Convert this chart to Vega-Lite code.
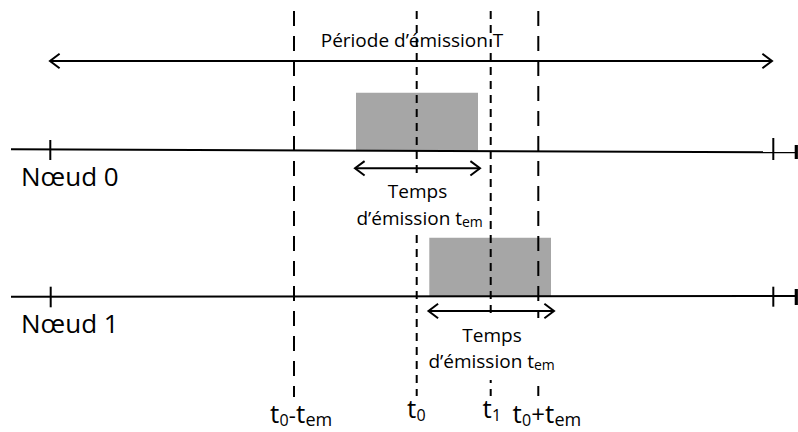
{
  "$schema": "https://vega.github.io/schema/vega-lite/v6.json",
  "width": 798,
  "height": 432,
  "padding": 0,
  "autosize": {"type": "fit", "contains": "padding"},
  "background": "white",
  "config": {"view": {"stroke": null}, "text": {"font": "Open Sans", "color": "#000000", "baseline": "alphabetic"}},
  "datasets": {
    "boxes": [
      {"name": "Nœud 0 émission", "x": 356, "x2": 478, "y": 92.7, "y2": 150.5},
      {"name": "Nœud 1 émission", "x": 429.3, "x2": 551, "y": 237.7, "y2": 296.5}
    ],
    "masks": [
      {"x": 352, "x2": 487, "y": 176, "y2": 235},
      {"x": 424, "x2": 560, "y": 318, "y2": 380}
    ],
    "segs": [
      {"seg": "Nœud 0", "x": 11, "x2": 797, "y": 149.3, "y2": 152.3},
      {"seg": "Nœud 1", "x": 11, "x2": 797, "y": 296.7, "y2": 296},
      {"seg": "T", "x": 50, "x2": 772, "y": 61, "y2": 61},
      {"seg": "tem 0", "x": 355, "x2": 480, "y": 168.3, "y2": 168.3},
      {"seg": "tem 1", "x": 428.5, "x2": 554, "y": 311, "y2": 311}
    ],
    "vlines": [
      {"label": "t0-tem", "kind": "long", "x": 294, "y": 11, "y2": 397},
      {"label": "t0", "kind": "short", "x": 416.7, "y": 11, "y2": 396},
      {"label": "t1", "kind": "short", "x": 490.7, "y": 11, "y2": 396},
      {"label": "t0+tem", "kind": "long", "x": 538.3, "y": 11, "y2": 396}
    ],
    "ticks": [
      {"kind": "tick", "x": 50.3, "y": 140, "y2": 160},
      {"kind": "tick", "x": 773.3, "y": 138, "y2": 160},
      {"kind": "end", "x": 796.3, "y": 145, "y2": 159},
      {"kind": "tick", "x": 50.7, "y": 286.7, "y2": 307.3},
      {"kind": "tick", "x": 773.3, "y": 286.7, "y2": 306.7},
      {"kind": "end", "x": 796.3, "y": 289, "y2": 305}
    ],
    "heads": [
      {"dir": "left", "x": 50, "y": 61},
      {"dir": "right", "x": 772, "y": 61},
      {"dir": "left", "x": 355, "y": 168.3},
      {"dir": "right", "x": 480, "y": 168.3},
      {"dir": "left", "x": 428.5, "y": 311},
      {"dir": "right", "x": 554, "y": 311}
    ],
    "texts": [
      {"role": "title", "x": 412, "y": 47, "t": "Période d’émission T"},
      {"role": "node", "x": 21, "y": 186, "t": "Nœud 0"},
      {"role": "node", "x": 21, "y": 333, "t": "Nœud 1"},
      {"role": "body", "x": 417.5, "y": 198, "t": "Temps"},
      {"role": "bodyR", "x": 462, "y": 225, "t": "d’émission t"},
      {"role": "sub", "x": 462, "y": 227, "t": "em"},
      {"role": "body", "x": 492, "y": 342, "t": "Temps"},
      {"role": "bodyR", "x": 534, "y": 368, "t": "d’émission t"},
      {"role": "sub", "x": 534, "y": 370, "t": "em"},
      {"role": "big", "x": 270, "y": 423, "t": "t"},
      {"role": "bigsub", "x": 279.5, "y": 426, "t": "0"},
      {"role": "mid", "x": 288.8, "y": 423, "t": "-"},
      {"role": "big", "x": 296, "y": 423, "t": "t"},
      {"role": "sub2", "x": 305.5, "y": 426, "t": "em"},
      {"role": "big", "x": 407, "y": 418, "t": "t"},
      {"role": "bigsub", "x": 416.5, "y": 421, "t": "0"},
      {"role": "big", "x": 482.5, "y": 418, "t": "t"},
      {"role": "bigsub", "x": 492, "y": 421, "t": "1"},
      {"role": "big", "x": 512.5, "y": 423, "t": "t"},
      {"role": "bigsub", "x": 522, "y": 426, "t": "0"},
      {"role": "plus", "x": 531.3, "y": 423, "t": "+"},
      {"role": "big", "x": 545, "y": 423, "t": "t"},
      {"role": "sub2", "x": 554.5, "y": 426, "t": "em"}
    ]
  },
  "encoding": {
    "x": {"field": "x", "type": "quantitative", "scale": {"domain": [0, 798], "nice": false, "zero": false}, "axis": null},
    "y": {"field": "y", "type": "quantitative", "scale": {"domain": [0, 432], "nice": false, "zero": false, "reverse": true}, "axis": null}
  },
  "layer": [
    {
      "data": {"name": "boxes"},
      "mark": {"type": "rect", "color": "#a6a6a6"},
      "encoding": {"x2": {"field": "x2"}, "y2": {"field": "y2"}}
    },
    {
      "data": {"name": "segs"},
      "mark": {"type": "rule", "color": "#000000", "strokeWidth": 2},
      "encoding": {"x2": {"field": "x2"}, "y2": {"field": "y2"}}
    },
    {
      "data": {"name": "ticks"},
      "mark": {"type": "rule", "color": "#000000"},
      "encoding": {
        "y2": {"field": "y2"},
        "strokeWidth": {"field": "kind", "type": "nominal", "scale": {"domain": ["tick", "end"], "range": [2, 3.2]}, "legend": null}
      }
    },
    {
      "data": {"name": "vlines"},
      "mark": {"type": "rule", "color": "#000000", "strokeWidth": 2},
      "encoding": {
        "y2": {"field": "y2"},
        "strokeDash": {"field": "kind", "type": "nominal", "scale": {"domain": ["long", "short"], "range": [[15, 10], [8, 6]]}, "legend": null}
      }
    },
    {
      "data": {"name": "masks"},
      "mark": {"type": "rect", "color": "#ffffff"},
      "encoding": {"x2": {"field": "x2"}, "y2": {"field": "y2"}}
    },
    {
      "data": {"name": "heads"},
      "mark": {"type": "point", "filled": false, "color": "#000000", "strokeWidth": 2, "size": 256, "opacity": 1},
      "encoding": {
        "shape": {"field": "dir", "type": "nominal", "scale": {"domain": ["left", "right"], "range": ["M1.2,-0.9L0,0L1.2,0.9", "M-1.2,-0.9L0,0L-1.2,0.9"]}, "legend": null}
      }
    },
    {
      "data": {"name": "texts"},
      "transform": [{"filter": "datum.role == 'title'"}],
      "mark": {"type": "text", "fontSize": 19, "align": "center"},
      "encoding": {"text": {"field": "t"}}
    },
    {
      "data": {"name": "texts"},
      "transform": [{"filter": "datum.role == 'node'"}],
      "mark": {"type": "text", "fontSize": 26, "align": "left"},
      "encoding": {"text": {"field": "t"}}
    },
    {
      "data": {"name": "texts"},
      "transform": [{"filter": "datum.role == 'body'"}],
      "mark": {"type": "text", "fontSize": 19, "align": "center"},
      "encoding": {"text": {"field": "t"}}
    },
    {
      "data": {"name": "texts"},
      "transform": [{"filter": "datum.role == 'bodyR'"}],
      "mark": {"type": "text", "fontSize": 19, "align": "right"},
      "encoding": {"text": {"field": "t"}}
    },
    {
      "data": {"name": "texts"},
      "transform": [{"filter": "datum.role == 'sub'"}],
      "mark": {"type": "text", "fontSize": 14, "align": "left"},
      "encoding": {"text": {"field": "t"}}
    },
    {
      "data": {"name": "texts"},
      "transform": [{"filter": "datum.role == 'big'"}],
      "mark": {"type": "text", "fontSize": 26, "align": "left"},
      "encoding": {"text": {"field": "t"}}
    },
    {
      "data": {"name": "texts"},
      "transform": [{"filter": "datum.role == 'mid'"}],
      "mark": {"type": "text", "fontSize": 22, "align": "left"},
      "encoding": {"text": {"field": "t"}}
    },
    {
      "data": {"name": "texts"},
      "transform": [{"filter": "datum.role == 'plus'"}],
      "mark": {"type": "text", "fontSize": 24, "align": "left"},
      "encoding": {"text": {"field": "t"}}
    },
    {
      "data": {"name": "texts"},
      "transform": [{"filter": "datum.role == 'bigsub'"}],
      "mark": {"type": "text", "fontSize": 16, "align": "left"},
      "encoding": {"text": {"field": "t"}}
    },
    {
      "data": {"name": "texts"},
      "transform": [{"filter": "datum.role == 'sub2'"}],
      "mark": {"type": "text", "fontSize": 18, "align": "left"},
      "encoding": {"text": {"field": "t"}}
    }
  ]
}
